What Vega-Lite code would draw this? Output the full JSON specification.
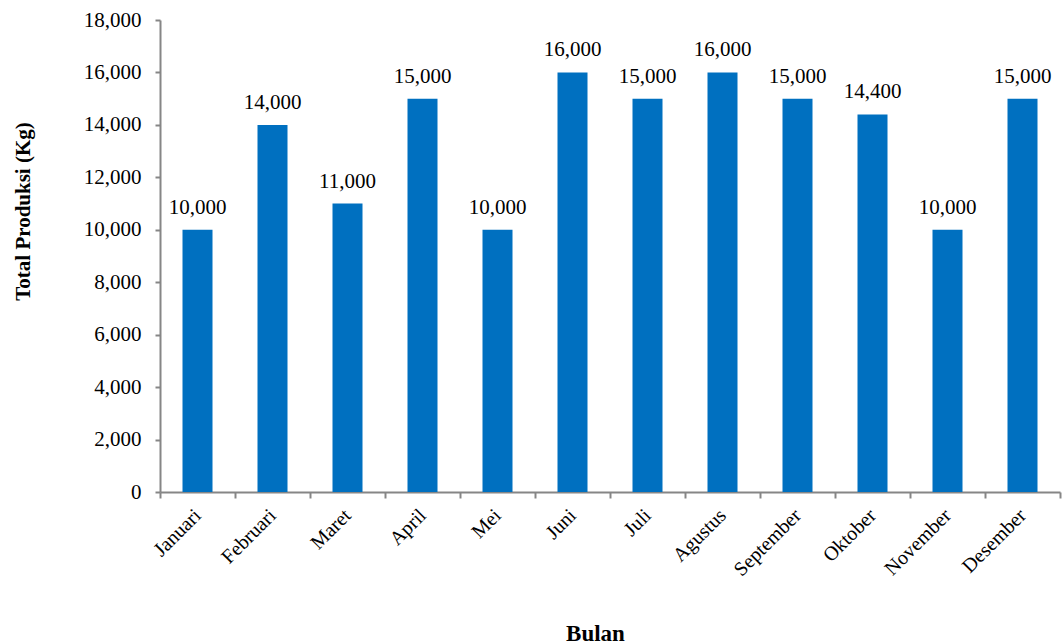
{
  "$schema": "https://vega.github.io/schema/vega-lite/v6.json",
  "autosize": "none",
  "width": 900,
  "height": 472,
  "padding": {"left": 160, "top": 20, "right": 2, "bottom": 152},
  "background": "white",
  "config": {"view": {"stroke": null}, "font": "Liberation Serif"},
  "data": {"values": [
    {"bulan": "Januari", "total": 10000},
    {"bulan": "Februari", "total": 14000},
    {"bulan": "Maret", "total": 11000},
    {"bulan": "April", "total": 15000},
    {"bulan": "Mei", "total": 10000},
    {"bulan": "Juni", "total": 16000},
    {"bulan": "Juli", "total": 15000},
    {"bulan": "Agustus", "total": 16000},
    {"bulan": "September", "total": 15000},
    {"bulan": "Oktober", "total": 14400},
    {"bulan": "November", "total": 10000},
    {"bulan": "Desember", "total": 15000}
  ]},
  "encoding": {
    "x": {"field": "bulan", "type": "nominal", "sort": null,
      "scale": {"paddingInner": 0, "paddingOuter": 0},
      "axis": {"title": "Bulan", "titleFont": "Liberation Serif", "titleFontSize": 23, "titleFontWeight": "bold", "titleColor": "black",
        "titleX": 435, "titleY": 148, "titleBaseline": "alphabetic", "titleAnchor": null, "titleAlign": "center",
        "labelAngle": -45, "labelAlign": "right", "labelBaseline": "middle", "labelFontSize": 20, "labelColor": "black", "labelFont": "Liberation Serif",
        "labelPadding": 14,
        "tickBand": "extent", "tickSize": 6, "tickColor": "#868686", "domainColor": "#868686", "domainWidth": 2, "tickWidth": 2, "grid": false}},
    "y": {"field": "total", "type": "quantitative",
      "scale": {"domain": [0, 18000], "nice": false},
      "axis": {"title": "Total Produksi (Kg)", "titleFont": "Liberation Serif", "titleFontSize": 21, "titleFontWeight": "bold", "titleColor": "black",
        "titleX": -137, "titleY": 191, "titleAngle": -90, "titleBaseline": "middle", "titleAlign": "center", "titleAnchor": null,
        "values": [0, 2000, 4000, 6000, 8000, 10000, 12000, 14000, 16000, 18000], "format": ",.0f",
        "labelFontSize": 21, "labelColor": "black", "labelFont": "Liberation Serif", "labelPadding": 14,
        "tickSize": 5, "tickColor": "#868686", "domainColor": "#868686", "domainWidth": 2, "tickWidth": 2, "grid": false}}
  },
  "layer": [
    {"mark": {"type": "bar", "color": "#0070C0", "width": {"band": 0.4}}},
    {"mark": {"type": "text", "baseline": "alphabetic", "dy": -16, "fontSize": 21, "font": "Liberation Serif", "color": "black"},
      "encoding": {"text": {"field": "total", "type": "quantitative", "format": ",.0f"}}}
  ]
}
